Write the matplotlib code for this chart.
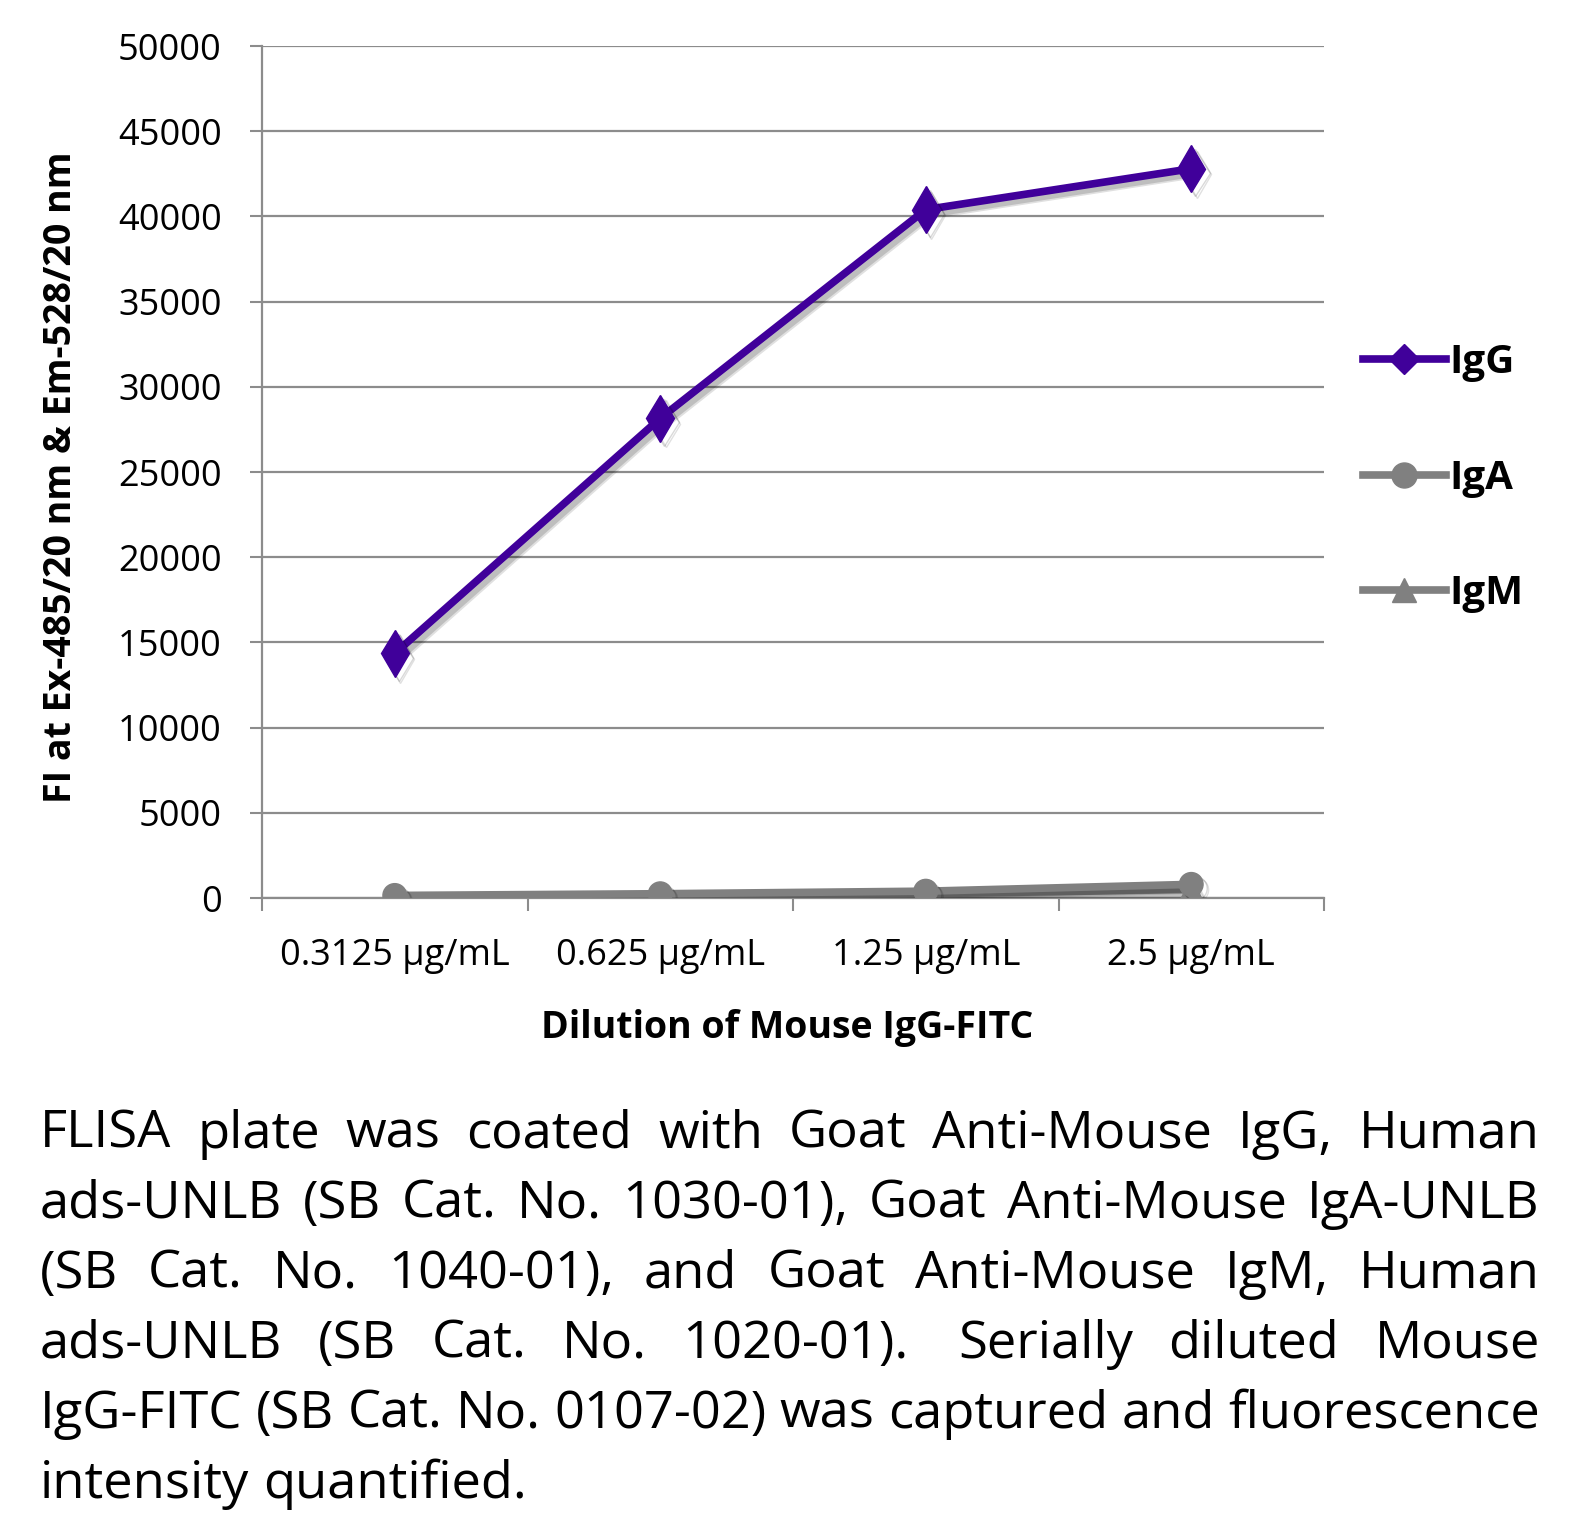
import matplotlib
matplotlib.use('Agg')
import matplotlib.pyplot as plt
import matplotlib.patheffects as pe
from matplotlib.lines import Line2D

# data #
dilutions = ['0.3125 µg/mL', '0.625 µg/mL', '1.25 µg/mL', '2.5 µg/mL']
igg = [14350, 28150, 40400, 42800]
iga = [150, 250, 400, 800]
igm = [100, 150, 250, 500]
y_ticks = [0, 5000, 10000, 15000, 20000, 25000, 30000, 35000, 40000, 45000, 50000]

caption_lines = [
    "FLISA plate was coated with Goat Anti-Mouse IgG, Human",
    "ads-UNLB (SB Cat. No. 1030-01), Goat Anti-Mouse IgA-UNLB",
    "(SB Cat. No. 1040-01), and Goat Anti-Mouse IgM, Human",
    "ads-UNLB (SB Cat. No. 1020-01).  Serially diluted Mouse",
    "IgG-FITC (SB Cat. No. 0107-02) was captured and fluorescence",
    "intensity quantified.",
]

purple = '#40009a'
gray = '#808080'
grid_gray = '#8c8c8c'
font = 'Open Sans'
plt.rcParams['font.family'] = [font, 'DejaVu Sans']

W, H = 1593, 1513
fig = plt.figure(figsize=(W / 100, H / 100), dpi=100)
ax = fig.add_axes([262 / W, 1 - 898 / H, (1324 - 262) / W, (898 - 46) / H])

x = list(range(len(dilutions)))
shadow = [pe.SimpleLineShadow(offset=(4, -4), shadow_color='k', alpha=0.12),
          pe.SimpleLineShadow(offset=(3, -3), shadow_color='k', alpha=0.15),
          pe.Normal()]

ax.plot(x, igm, color=gray, lw=5.5, marker='^', ms=17, mec=gray, path_effects=shadow, zorder=3)
ax.plot(x, iga, color=gray, lw=5.5, marker='o', ms=17, mec=gray, path_effects=shadow, zorder=4)
ax.plot(x, igg, color=purple, lw=5.5, marker='d', ms=24, mec=purple, path_effects=shadow, zorder=5)

ax.set_xlim(-0.5, len(dilutions) - 0.5)
ax.set_ylim(0, 50000)
ax.set_yticks(y_ticks)
ax.set_yticklabels([str(v) for v in y_ticks], fontsize=26)
ax.set_xticks(x)
ax.set_xticklabels(dilutions, fontsize=26)
ax.set_xticks([i - 0.5 for i in range(len(dilutions) + 1)], minor=True)
ax.tick_params(axis='x', which='major', length=0, pad=29)
ax.tick_params(axis='x', which='minor', length=9, width=1.5, color=grid_gray, direction='out')
ax.tick_params(axis='y', length=9, width=1.5, color=grid_gray, pad=20)

ax.grid(axis='y', color=grid_gray, lw=1.6)
ax.set_axisbelow(True)
for side in ['top', 'right']:
    ax.spines[side].set_visible(False)
for side in ['left', 'bottom']:
    ax.spines[side].set_color(grid_gray)
    ax.spines[side].set_linewidth(1.6)

fig.text(61 / W, 1 - 477 / H, 'FI at Ex-485/20 nm & Em-528/20 nm', rotation=90,
         ha='center', va='center', fontsize=27, fontweight='bold')
fig.text(787 / W, 1 - 1028 / H, 'Dilution of Mouse IgG-FITC',
         ha='center', va='center', fontsize=27, fontweight='bold')

handles = [
    Line2D([], [], color=purple, lw=5.5, marker='D', ms=15),
    Line2D([], [], color=gray, lw=5.5, marker='o', ms=18),
    Line2D([], [], color=gray, lw=5.5, marker='^', ms=17),
]
leg = fig.legend(handles, ['IgG', 'IgA', 'IgM'], loc='upper left',
                 bbox_to_anchor=(1343 / W, 1 - 323 / H), frameon=False,
                 prop={'size': 29, 'weight': 'bold'}, handlelength=2.05,
                 handletextpad=0.08, labelspacing=1.9, borderpad=0)

# justified caption, placed word by word (double space keeps an extra gap) #
left, right = 40 / W, 1540 / W
base0 = 1148
step = 70
fig.canvas.draw()
r = fig.canvas.get_renderer()
size = 36
probe = fig.text(0, 0, caption_lines[4], fontsize=size)
wline = probe.get_window_extent(r).width
probe.remove()
size = min(38, size * (right - left) * W / wline)

sp = fig.text(0, 0, 'a a', fontsize=size)
a = fig.text(0, 0, 'aa', fontsize=size)
space_w = (sp.get_window_extent(r).width - a.get_window_extent(r).width) / W
sp.remove()
a.remove()

for k, line in enumerate(caption_lines):
    yb = 1 - (base0 + k * step) / H
    parts = line.split(' ')
    words = [p for p in parts if p]
    extra = []
    for p in parts:
        if p:
            extra.append(0)
        elif extra:
            extra[-1] += 1
    texts = [fig.text(0, yb, w_, fontsize=size, va='baseline') for w_ in words]
    widths = [t.get_window_extent(r).width / W for t in texts]
    n_extra = sum(extra)
    if k == len(caption_lines) - 1:
        gap = space_w
    else:
        gap = (right - left - sum(widths) - n_extra * space_w) / (len(words) - 1)
    xp = left
    for t, wd, e in zip(texts, widths, extra):
        t.set_x(xp)
        xp += wd + gap + e * space_w

fig.savefig('out.png', dpi=100)
